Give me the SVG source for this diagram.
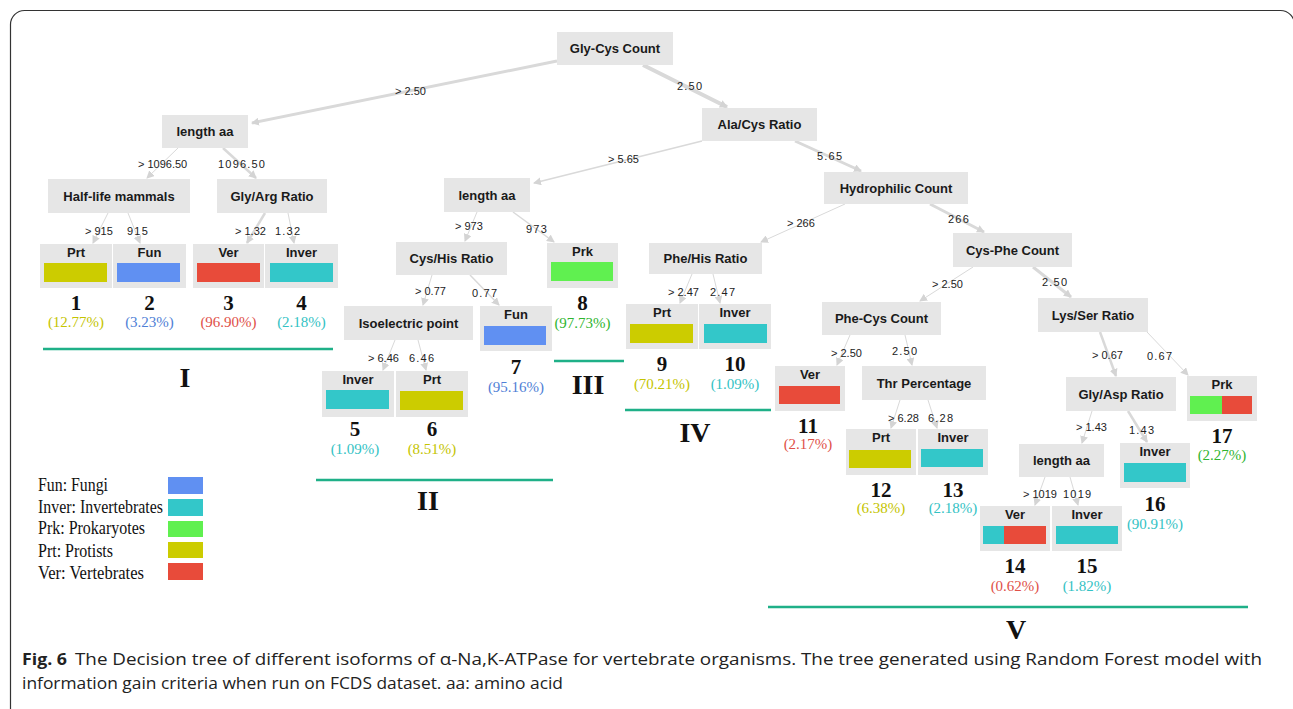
<svg xmlns="http://www.w3.org/2000/svg" width="1293" height="709" viewBox="0 0 1293 709">
<style>
.nb{fill:#e6e6e6}
.nt{font-family:"Liberation Sans",Arial,sans-serif;font-weight:bold;font-size:13px;fill:#1a1a1a;text-anchor:middle}
.el{font-family:"Liberation Sans",Arial,sans-serif;font-size:11px;fill:#222}
.er{font-family:"Liberation Sans",Arial,sans-serif;font-size:11px;fill:#222;letter-spacing:1.2px}
.num{font-family:"Liberation Serif","Times New Roman",serif;font-weight:bold;font-size:21px;fill:#111;text-anchor:middle}
.pct{font-family:"Liberation Serif","Times New Roman",serif;font-size:15px;text-anchor:middle}
.rom{font-family:"Liberation Serif","Times New Roman",serif;font-weight:bold;font-size:28px;fill:#111;text-anchor:middle}
.leg{font-family:"Liberation Serif","Times New Roman",serif;font-size:19.5px;fill:#111}
.grp{stroke:#1fb088;stroke-width:2.5}
.e{fill:none;stroke:#d9d9d9;marker-end:url(#ah)}
.cap{font-family:"Open Sans","Liberation Sans",sans-serif;font-size:16.5px;fill:#222}
.fun{fill:#6090f2}.inv{fill:#33c7c9}.prk{fill:#60f050}.prt{fill:#cccc00}.ver{fill:#e84b3a}
.cfun{fill:#4f80d6}.cinv{fill:#33c2c4}.cprk{fill:#2fb52f}.cprt{fill:#c4c400}.cver{fill:#e05048}
</style>
<defs>
<marker id="ah" markerUnits="userSpaceOnUse" markerWidth="8" markerHeight="8" refX="7" refY="4" orient="auto">
<path d="M0,0 L8,4 L0,8 z" fill="#d4d4d4"/>
</marker>
</defs>
<rect x="0" y="0" width="1293" height="709" fill="#fff"/>
<rect x="10.5" y="10.5" width="1284" height="730" rx="14" fill="none" stroke="#333" stroke-width="1.2"/>

<g id="connectors">
<path class="e" d="M557,61 L252,123" stroke-width="3"/>
<path class="e" d="M643,65 L727,107" stroke-width="4"/>
<path class="e" d="M178,148 L147,178" stroke-width="1"/>
<path class="e" d="M223,148 L256,178" stroke-width="2.5"/>
<path class="e" d="M108,213 L93,243" stroke-width="1"/>
<path class="e" d="M128,213 L140,243" stroke-width="1"/>
<path class="e" d="M265,213 L247,243" stroke-width="2.5"/>
<path class="e" d="M288,213 L294,243" stroke-width="1"/>
<path class="e" d="M702,141 L534,183" stroke-width="1.5"/>
<path class="e" d="M795,141 L861,171" stroke-width="3"/>
<path class="e" d="M477,212 L465,241" stroke-width="1"/>
<path class="e" d="M513,212 L554,242" stroke-width="1.5"/>
<path class="e" d="M432,275 L423,305" stroke-width="1"/>
<path class="e" d="M470,275 L499,305" stroke-width="1.5"/>
<path class="e" d="M395,340 L383,370" stroke-width="1"/>
<path class="e" d="M418,340 L426,370" stroke-width="1"/>
<path class="e" d="M845,204 L761,242" stroke-width="1"/>
<path class="e" d="M930,204 L984,232" stroke-width="3"/>
<path class="e" d="M692,274 L680,303" stroke-width="1"/>
<path class="e" d="M713,274 L720,303" stroke-width="1"/>
<path class="e" d="M973,267 L920,301" stroke-width="1"/>
<path class="e" d="M1033,267 L1071,297" stroke-width="3"/>
<path class="e" d="M850,335 L837,365" stroke-width="1"/>
<path class="e" d="M905,335 L912,365" stroke-width="1"/>
<path class="e" d="M1100,332 L1116,376" stroke-width="2.5"/>
<path class="e" d="M1147,332 L1188,375" stroke-width="1"/>
<path class="e" d="M900,400 L891,428" stroke-width="1"/>
<path class="e" d="M928,400 L937,428" stroke-width="1"/>
<path class="e" d="M1092,411 L1082,443" stroke-width="1"/>
<path class="e" d="M1128,411 L1147,442" stroke-width="2.5"/>
<path class="e" d="M1045,477 L1035,505" stroke-width="1"/>
<path class="e" d="M1070,477 L1078,505" stroke-width="1"/>
</g>

<g id="edge-labels">
<text class="el" x="395" y="95">&gt; 2.50</text>
<text class="er" x="677" y="90">2.50</text>
<text class="el" x="138" y="168">&gt; 1096.50</text>
<text class="er" x="218" y="168">1096.50</text>
<text class="el" x="85" y="235">&gt; 915</text>
<text class="er" x="127" y="235">915</text>
<text class="el" x="235" y="235">&gt; 1.32</text>
<text class="er" x="275" y="235">1.32</text>
<text class="el" x="608" y="163">&gt; 5.65</text>
<text class="er" x="817" y="160">5.65</text>
<text class="el" x="787" y="227">&gt; 266</text>
<text class="er" x="948" y="223">266</text>
<text class="el" x="455" y="230">&gt; 973</text>
<text class="er" x="526" y="233">973</text>
<text class="el" x="415" y="295">&gt; 0.77</text>
<text class="er" x="472" y="297">0.77</text>
<text class="el" x="368" y="362">&gt; 6.46</text>
<text class="er" x="409" y="362">6.46</text>
<text class="el" x="668" y="296">&gt; 2.47</text>
<text class="er" x="710" y="296">2.47</text>
<text class="el" x="932" y="288">&gt; 2.50</text>
<text class="er" x="1042" y="286">2.50</text>
<text class="el" x="831" y="357">&gt; 2.50</text>
<text class="er" x="892" y="355">2.50</text>
<text class="el" x="1092" y="359">&gt; 0.67</text>
<text class="er" x="1147" y="360">0.67</text>
<text class="el" x="888" y="422">&gt; 6.28</text>
<text class="er" x="928" y="422">6.28</text>
<text class="el" x="1076" y="431">&gt; 1.43</text>
<text class="er" x="1129" y="434">1.43</text>
<text class="el" x="1023" y="498">&gt; 1019</text>
<text class="er" x="1063" y="498">1019</text>
</g>

<g id="n-glycys"><rect class="nb" x="557" y="32" width="116" height="33"/><text class="nt" x="615" y="53">Gly-Cys Count</text></g>
<g id="n-length1"><rect class="nb" x="162" y="115" width="86" height="33"/><text class="nt" x="205" y="136">length aa</text></g>
<g id="n-halflife"><rect class="nb" x="48" y="179" width="142" height="34"/><text class="nt" x="119" y="201">Half-life mammals</text></g>
<g id="n-glyarg"><rect class="nb" x="217" y="179" width="110" height="34"/><text class="nt" x="272" y="201">Gly/Arg Ratio</text></g>
<g id="n-alacys"><rect class="nb" x="702" y="108" width="115" height="33"/><text class="nt" x="759.5" y="129">Ala/Cys Ratio</text></g>
<g id="n-length2"><rect class="nb" x="444" y="178" width="86" height="34"/><text class="nt" x="487" y="200">length aa</text></g>
<g id="n-hydro"><rect class="nb" x="824" y="172" width="144" height="32"/><text class="nt" x="896" y="193">Hydrophilic Count</text></g>
<g id="n-cyshis"><rect class="nb" x="396" y="242" width="111" height="33"/><text class="nt" x="451.5" y="263">Cys/His Ratio</text></g>
<g id="n-phehis"><rect class="nb" x="649" y="243" width="113" height="31"/><text class="nt" x="705.5" y="263">Phe/His Ratio</text></g>
<g id="n-iso"><rect class="nb" x="344" y="306" width="129" height="34"/><text class="nt" x="408.5" y="328">Isoelectric point</text></g>
<g id="n-cysphe"><rect class="nb" x="953" y="233" width="119" height="34"/><text class="nt" x="1012.5" y="255">Cys-Phe Count</text></g>
<g id="n-phecys"><rect class="nb" x="822" y="302" width="119" height="33"/><text class="nt" x="881.5" y="323">Phe-Cys Count</text></g>
<g id="n-lysser"><rect class="nb" x="1038" y="298" width="110" height="34"/><text class="nt" x="1093" y="320">Lys/Ser Ratio</text></g>
<g id="n-thr"><rect class="nb" x="862" y="366" width="124" height="34"/><text class="nt" x="924" y="388">Thr Percentage</text></g>
<g id="n-glyasp"><rect class="nb" x="1066" y="377" width="110" height="34"/><text class="nt" x="1121" y="399">Gly/Asp Ratio</text></g>
<g id="n-length3"><rect class="nb" x="1019" y="444" width="85" height="33"/><text class="nt" x="1061.5" y="465">length aa</text></g>

<g id="leaf1"><rect class="nb" x="40" y="244" width="72" height="44"/><text class="nt" x="76" y="257">Prt</text><rect class="prt" x="44" y="263" width="63" height="19"/><text class="num" x="76" y="310">1</text><text class="pct cprt" x="76" y="327">(12.77%)</text></g>
<g id="leaf2"><rect class="nb" x="113" y="244" width="73" height="44"/><text class="nt" x="149.5" y="257">Fun</text><rect class="fun" x="117" y="263" width="63" height="19"/><text class="num" x="149.5" y="310">2</text><text class="pct cfun" x="149.5" y="327">(3.23%)</text></g>
<g id="leaf3"><rect class="nb" x="193" y="244" width="71" height="44"/><text class="nt" x="228.5" y="257">Ver</text><rect class="ver" x="197" y="263" width="63" height="19"/><text class="num" x="228.5" y="310">3</text><text class="pct cver" x="228.5" y="327">(96.90%)</text></g>
<g id="leaf4"><rect class="nb" x="265" y="244" width="73" height="44"/><text class="nt" x="301.5" y="257">Inver</text><rect class="inv" x="270" y="263" width="63" height="19"/><text class="num" x="301.5" y="310">4</text><text class="pct cinv" x="301.5" y="327">(2.18%)</text></g>
<g id="leaf5"><rect class="nb" x="322" y="371" width="72" height="46"/><text class="nt" x="358" y="384">Inver</text><rect class="inv" x="326" y="390" width="63" height="19"/><text class="num" x="355" y="436">5</text><text class="pct cinv" x="355" y="454">(1.09%)</text></g>
<g id="leaf6"><rect class="nb" x="396" y="371" width="72" height="46"/><text class="nt" x="432" y="384">Prt</text><rect class="prt" x="400" y="391" width="63" height="19"/><text class="num" x="432" y="436">6</text><text class="pct cprt" x="432" y="454">(8.51%)</text></g>
<g id="leaf7"><rect class="nb" x="480" y="306" width="72" height="45"/><text class="nt" x="516" y="319">Fun</text><rect class="fun" x="484" y="326" width="62" height="19"/><text class="num" x="516" y="374">7</text><text class="pct cfun" x="516" y="392">(95.16%)</text></g>
<g id="leaf8"><rect class="nb" x="547" y="243" width="71" height="45"/><text class="nt" x="582.5" y="256">Prk</text><rect class="prk" x="551" y="262" width="62" height="19"/><text class="num" x="582.5" y="310">8</text><text class="pct cprk" x="582.5" y="328">(97.73%)</text></g>
<g id="leaf9"><rect class="nb" x="626" y="304" width="72" height="45"/><text class="nt" x="662" y="317">Prt</text><rect class="prt" x="630" y="324" width="63" height="19"/><text class="num" x="662" y="371">9</text><text class="pct cprt" x="662" y="389">(70.21%)</text></g>
<g id="leaf10"><rect class="nb" x="699" y="304" width="72" height="45"/><text class="nt" x="735" y="317">Inver</text><rect class="inv" x="704" y="324" width="63" height="19"/><text class="num" x="735" y="371">10</text><text class="pct cinv" x="735" y="389">(1.09%)</text></g>
<g id="leaf11"><rect class="nb" x="775" y="366" width="70" height="45"/><text class="nt" x="810" y="379">Ver</text><rect class="ver" x="779" y="386" width="61" height="18"/><text class="num" x="808" y="433">11</text><text class="pct cver" x="808" y="449">(2.17%)</text></g>
<g id="leaf12"><rect class="nb" x="846" y="429" width="70" height="46"/><text class="nt" x="881" y="442">Prt</text><rect class="prt" x="849" y="450" width="62" height="18"/><text class="num" x="881" y="497">12</text><text class="pct cprt" x="881" y="513">(6.38%)</text></g>
<g id="leaf13"><rect class="nb" x="918" y="429" width="70" height="46"/><text class="nt" x="953" y="442">Inver</text><rect class="inv" x="921" y="449" width="62" height="18"/><text class="num" x="953" y="497">13</text><text class="pct cinv" x="953" y="513">(2.18%)</text></g>
<g id="leaf14"><rect class="nb" x="980" y="506" width="70" height="45"/><text class="nt" x="1015" y="519">Ver</text><rect class="inv" x="983" y="526" width="21" height="18"/><rect class="ver" x="1004" y="526" width="42" height="18"/><text class="num" x="1015" y="573">14</text><text class="pct cver" x="1015" y="591">(0.62%)</text></g>
<g id="leaf15"><rect class="nb" x="1052" y="506" width="70" height="45"/><text class="nt" x="1087" y="519">Inver</text><rect class="inv" x="1056" y="526" width="62" height="18"/><text class="num" x="1087" y="573">15</text><text class="pct cinv" x="1087" y="591">(1.82%)</text></g>
<g id="leaf16"><rect class="nb" x="1120" y="443" width="70" height="45"/><text class="nt" x="1155" y="456">Inver</text><rect class="inv" x="1124" y="463" width="62" height="19"/><text class="num" x="1155" y="511">16</text><text class="pct cinv" x="1155" y="529">(90.91%)</text></g>
<g id="leaf17"><rect class="nb" x="1187" y="376" width="70" height="45"/><text class="nt" x="1222" y="389">Prk</text><rect class="prk" x="1190" y="396" width="32" height="18"/><rect class="ver" x="1222" y="396" width="30" height="18"/><text class="num" x="1222" y="443">17</text><text class="pct cprk" x="1222" y="460">(2.27%)</text></g>

<g id="groups">
<line class="grp" x1="43" y1="349" x2="333" y2="349"/>
<text class="rom" x="185" y="387">I</text>
<line class="grp" x1="316" y1="480" x2="553" y2="480"/>
<text class="rom" x="428" y="510">II</text>
<line class="grp" x1="554" y1="361" x2="624" y2="361"/>
<text class="rom" x="588" y="394">III</text>
<line class="grp" x1="625" y1="410" x2="771" y2="410"/>
<text class="rom" x="695" y="442">IV</text>
<line class="grp" x1="768" y1="607" x2="1248" y2="607"/>
<text class="rom" x="1016" y="639">V</text>
</g>

<g id="legend">
<text class="leg" x="38" y="491" textLength="70" lengthAdjust="spacingAndGlyphs">Fun: Fungi</text>
<rect class="fun" x="168" y="477" width="35" height="17"/>
<text class="leg" x="38" y="513" textLength="125" lengthAdjust="spacingAndGlyphs">Inver: Invertebrates</text>
<rect class="inv" x="168" y="499" width="35" height="17"/>
<text class="leg" x="38" y="534" textLength="107" lengthAdjust="spacingAndGlyphs">Prk: Prokaryotes</text>
<rect class="prk" x="168" y="521" width="35" height="16"/>
<text class="leg" x="38" y="557" textLength="75" lengthAdjust="spacingAndGlyphs">Prt: Protists</text>
<rect class="prt" x="168" y="542" width="35" height="16"/>
<text class="leg" x="38" y="579" textLength="106" lengthAdjust="spacingAndGlyphs">Ver: Vertebrates</text>
<rect class="ver" x="168" y="563" width="35" height="17"/>
</g>

<g id="caption">
<text class="cap" x="22" y="665" font-weight="bold" textLength="45" lengthAdjust="spacingAndGlyphs">Fig. 6</text>
<text class="cap" x="75" y="665" textLength="1187" lengthAdjust="spacingAndGlyphs">The Decision tree of different isoforms of α-Na,K-ATPase for vertebrate organisms. The tree generated using Random Forest model with</text>
<text class="cap" x="22" y="689" textLength="541" lengthAdjust="spacingAndGlyphs">information gain criteria when run on FCDS dataset. aa: amino acid</text>
</g>
</svg>
